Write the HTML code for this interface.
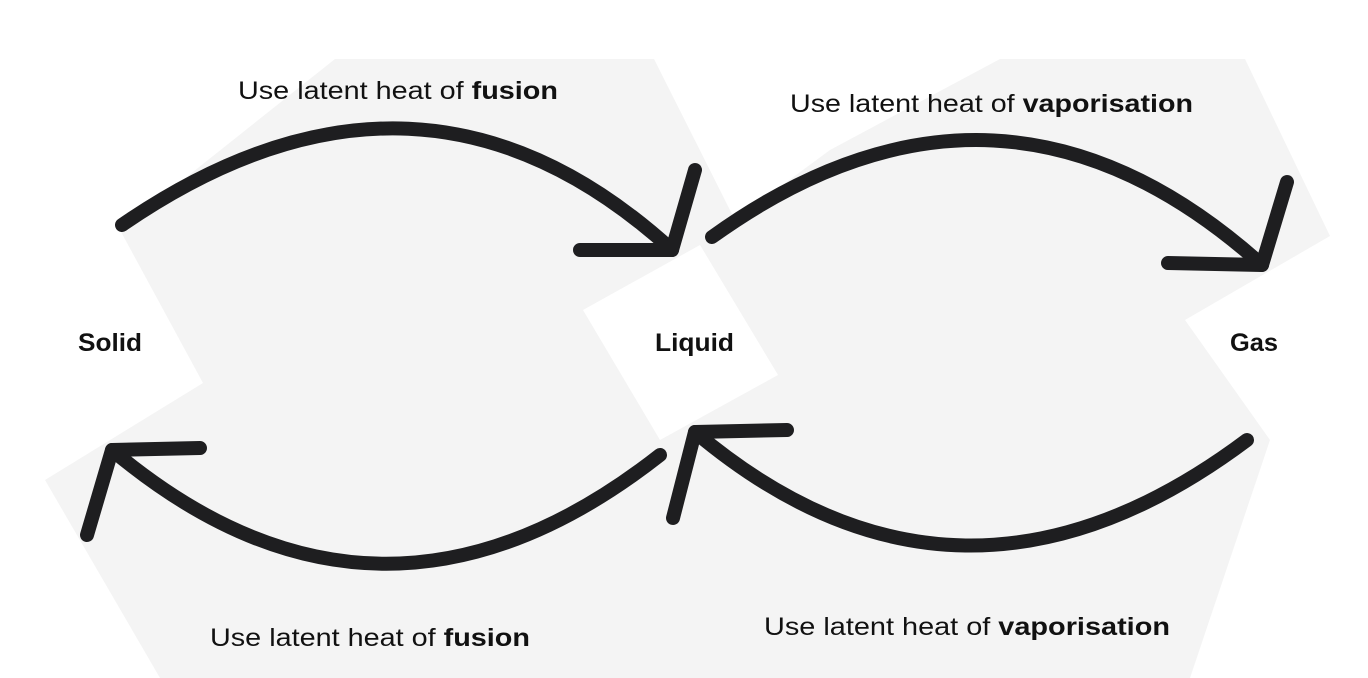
<!DOCTYPE html>
<html><head><meta charset="utf-8"><style>
html,body{margin:0;padding:0;background:#fff;width:1368px;height:678px;overflow:hidden}
svg{display:block}
text{font-family:"Liberation Sans",sans-serif;fill:#111}
</style></head><body>
<svg width="1368" height="678" viewBox="0 0 1368 678">
<g fill="#f4f4f4">
<polygon points="120,230 335,59 654,59 735,220 830,150 1000,59 1245,59 1330,236 1185,320 1270,440 1190,678 700,678 160,678 45,480 203,383"/>
<polygon points="700,245 583,310 660,440 778,375" fill="#ffffff"/>
</g>
<g fill="none" stroke="#1e1e20" stroke-width="14" stroke-linecap="round" stroke-linejoin="round">
<g>
<path d="M122,225 Q420,20 672,250"/><path d="M695,170 L672,250 L580,250"/></g>
<g>
<path d="M712,237 Q1000,30 1262,265"/><path d="M1287,182 L1262,265 L1168,263"/></g>
<g>
<path d="M660,455 Q380,675 112,450"/><path d="M200,448 L112,450 L87,535"/></g>
<g>
<path d="M1247,440 Q960,655 695,432"/><path d="M787,430 L695,432 L673,518"/></g>
</g>
<g font-size="25">
<text x="238" y="99" textLength="320" lengthAdjust="spacingAndGlyphs">Use latent heat of <tspan font-weight="bold">fusion</tspan></text>
<text x="790" y="112" textLength="403" lengthAdjust="spacingAndGlyphs">Use latent heat of <tspan font-weight="bold">vaporisation</tspan></text>
<text x="210" y="646" textLength="320" lengthAdjust="spacingAndGlyphs">Use latent heat of <tspan font-weight="bold">fusion</tspan></text>
<text x="764" y="635" textLength="406" lengthAdjust="spacingAndGlyphs">Use latent heat of <tspan font-weight="bold">vaporisation</tspan></text>
</g>
<g font-size="25" font-weight="bold">
<text x="78" y="351" textLength="64" lengthAdjust="spacingAndGlyphs">Solid</text>
<text x="655" y="351" textLength="79" lengthAdjust="spacingAndGlyphs">Liquid</text>
<text x="1230" y="351" textLength="48" lengthAdjust="spacingAndGlyphs">Gas</text>
</g>
</svg>
</body></html>
